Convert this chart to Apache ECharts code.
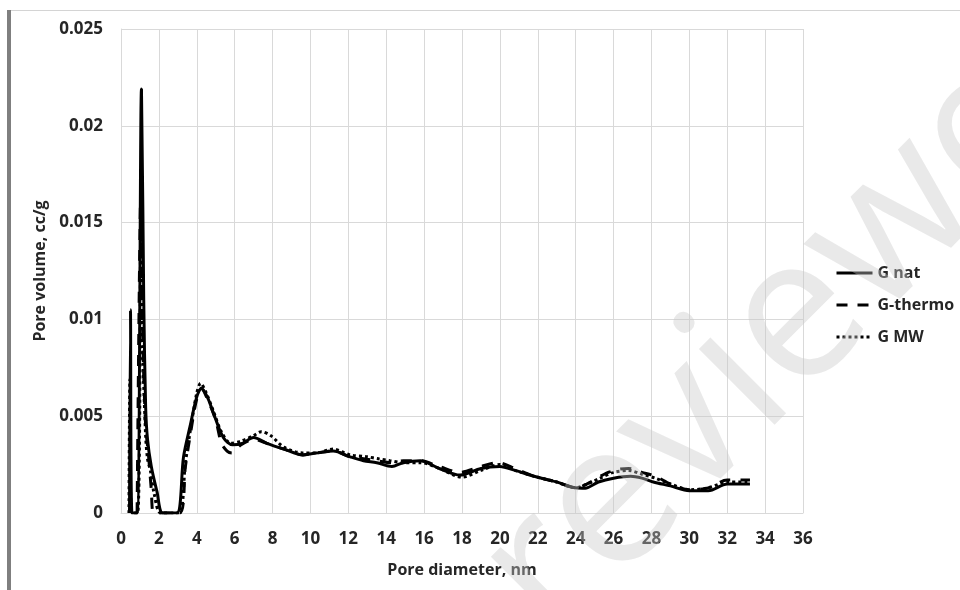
<!DOCTYPE html>
<html>
<head>
<meta charset="utf-8">
<script src="https://cdn.jsdelivr.net/npm/echarts@6/dist/echarts.min.js"></script>
<style>
  html, body { margin: 0; padding: 0; background: #ffffff; }
  #chart { width: 960px; height: 590px; }
</style>
</head>
<body>
<div id="chart"></div>
<script>
// Pore size distributions (pore volume vs. pore diameter) for three samples
var seriesNames = ['G nat', 'G-thermo', 'G MW'];

var natDiameter = [0.45, 0.5, 0.58, 0.85, 1.08, 1.2, 1.3, 1.4, 1.6, 1.9, 2.2, 2.95, 3.3, 3.65, 4.0, 4.25, 4.6, 4.9, 5.4, 5.9, 6.4, 7.0, 7.7, 8.6, 9.6, 10.3, 11.2, 12.1, 12.8, 13.5, 14.3, 14.9, 15.8, 16.8, 17.9, 19.0, 20.0, 20.8, 21.8, 23.0, 24.0, 24.5, 25.2, 26.0, 26.9, 27.5, 28.1, 29.0, 30.0, 31.0, 32.0, 33.2];
var natVolume   = [0, 0.0105, 0, 0, 0.0219, 0.011, 0.0055, 0.0038, 0.0024, 0.0011, 0, 0, 0.0029, 0.0045, 0.006, 0.00645, 0.0059, 0.0051, 0.0039, 0.00352, 0.0036, 0.0039, 0.0036, 0.0033, 0.003, 0.0031, 0.0032, 0.0029, 0.0027, 0.0026, 0.0024, 0.0026, 0.0027, 0.0023, 0.00196, 0.0023, 0.0024, 0.0022, 0.0019, 0.0016, 0.0013, 0.00128, 0.0016, 0.0018, 0.0019, 0.0018, 0.0016, 0.0014, 0.00115, 0.00115, 0.0015, 0.0015];

var thermoDiameter = [0.85, 1.06, 1.15, 1.3, 1.45, 1.6, 1.72, 2.05, 3.1, 3.4, 3.7, 4.0, 4.25, 4.6, 5.0, 5.3, 5.6, 5.85, 6.3, 7.0, 7.7, 8.6, 9.6, 10.3, 11.2, 12.1, 12.8, 13.5, 14.3, 14.9, 15.8, 16.8, 17.9, 19.0, 19.9, 20.8, 21.8, 23.0, 24.0, 24.6, 25.3, 26.0, 26.8, 27.5, 28.2, 29.0, 30.0, 31.0, 32.0, 33.2];
var thermoVolume   = [0, 0.0172, 0.009, 0.0045, 0.003, 0.0012, 0, 0, 0, 0.0024, 0.0043, 0.0059, 0.0064, 0.0058, 0.0048, 0.0036, 0.0032, 0.0031, 0.0035, 0.0038, 0.0036, 0.0033, 0.003, 0.0031, 0.0032, 0.0029, 0.0028, 0.0027, 0.0026, 0.0027, 0.0027, 0.0024, 0.0021, 0.0024, 0.0026, 0.0023, 0.0019, 0.0016, 0.0013, 0.0015, 0.0019, 0.0022, 0.0023, 0.0021, 0.0019, 0.0015, 0.0012, 0.0013, 0.0017, 0.0017];

var mwDiameter = [0.42, 0.47, 0.55, 0.88, 1.06, 1.15, 1.3, 1.4, 1.55, 1.75, 2.1, 3.05, 3.4, 3.7, 4.0, 4.2, 4.5, 4.9, 5.3, 5.8, 6.3, 7.0, 7.4, 7.9, 8.6, 9.6, 10.3, 11.2, 12.1, 13.0, 13.6, 14.2, 14.9, 15.8, 16.8, 18.0, 19.0, 20.0, 20.8, 21.8, 23.0, 24.0, 24.6, 25.3, 26.0, 26.8, 27.5, 28.2, 29.0, 30.0, 31.0, 32.0, 33.2];
var mwVolume   = [0, 0.0069, 0, 0, 0.0168, 0.0085, 0.004, 0.0028, 0.0022, 0.001, 0, 0, 0.0026, 0.0045, 0.0062, 0.0067, 0.0062, 0.0052, 0.0042, 0.0036, 0.0037, 0.004, 0.0042, 0.004, 0.0034, 0.0031, 0.0031, 0.0033, 0.003, 0.0029, 0.0028, 0.0027, 0.0026, 0.0026, 0.0023, 0.00185, 0.0022, 0.0025, 0.0022, 0.0019, 0.0016, 0.0013, 0.0015, 0.0018, 0.0021, 0.0022, 0.002, 0.0018, 0.0015, 0.0012, 0.0013, 0.0016, 0.0016];

var xTickLabels = ['0','2','4','6','8','10','12','14','16','18','20','22','24','26','28','30','32','34','36'];
var yTickLabels = ['0','0.005','0.01','0.015','0.02','0.025'];

function pairs(xs, ys) {
  return xs.map(function (x, i) { return [x, ys[i]]; });
}

var FONT = '"Open Sans", "Noto Sans", sans-serif';
var TEXT = '#262626';
var GRID = '#d9d9d9';

var chart = echarts.init(document.getElementById('chart'), null, { renderer: 'canvas' });

chart.setOption({
  backgroundColor: '#ffffff',
  animation: false,
  grid: { left: 121, right: 157, top: 29, bottom: 77, containLabel: false },
  legend: {
    orient: 'vertical',
    left: 830,
    top: 260,
    itemWidth: 36,
    itemHeight: 14,
    itemGap: 16,
    itemStyle: { color: 'rgba(0,0,0,0)', borderWidth: 0 },
    lineStyle: { width: 3 },
    textStyle: { fontFamily: FONT, fontSize: 16, fontWeight: 'bold', color: TEXT },
    data: seriesNames
  },
  xAxis: {
    type: 'value',
    min: 0, max: 36, interval: 2,
    name: 'Pore diameter, nm',
    nameLocation: 'middle',
    nameGap: 49,
    nameTextStyle: { fontFamily: FONT, fontSize: 16, fontWeight: 'bold', color: TEXT },
    axisLine: { show: true, lineStyle: { color: GRID, width: 1 } },
    axisTick: { show: false },
    axisLabel: {
      fontFamily: FONT, fontSize: 17, fontWeight: 'bold', color: TEXT, margin: 18,
      formatter: function (v) { return xTickLabels[Math.round(v / 2)]; }
    },
    splitLine: { show: true, lineStyle: { color: GRID, width: 1 } }
  },
  yAxis: {
    type: 'value',
    min: 0, max: 0.025, interval: 0.005,
    name: 'Pore volume, cc/g',
    nameLocation: 'middle',
    nameGap: 64,
    nameTextStyle: { fontFamily: FONT, fontSize: 16, fontWeight: 'bold', color: TEXT },
    axisLine: { show: true, lineStyle: { color: GRID, width: 1 } },
    axisTick: { show: false },
    axisLabel: {
      fontFamily: FONT, fontSize: 17, fontWeight: 'bold', color: TEXT, margin: 18,
      formatter: function (v) { return yTickLabels[Math.round(v / 0.005)]; }
    },
    splitLine: { show: true, lineStyle: { color: GRID, width: 1 } }
  },
  series: [
    {
      name: seriesNames[0], type: 'line', z: 4,
      data: pairs(natDiameter, natVolume),
      showSymbol: false, symbol: 'none', smooth: 0.3,
      lineStyle: { color: '#000000', width: 3, type: 'solid' },
      itemStyle: { color: '#000000' }
    },
    {
      name: seriesNames[1], type: 'line', z: 3,
      data: pairs(thermoDiameter, thermoVolume),
      showSymbol: false, symbol: 'none', smooth: 0.3,
      lineStyle: { color: '#000000', width: 3, type: [11, 10] },
      itemStyle: { color: '#000000' }
    },
    {
      name: seriesNames[2], type: 'line', z: 3,
      data: pairs(mwDiameter, mwVolume),
      showSymbol: false, symbol: 'none', smooth: 0.3,
      lineStyle: { color: '#000000', width: 3, type: [3, 3] },
      itemStyle: { color: '#000000' }
    }
  ],
  graphic: [
    // page frame: thick rule on the left, thin rule on top
    { type: 'rect', left: 7, top: 10, shape: { width: 4, height: 580 }, style: { fill: '#7f7f7f' }, z: 100 },
    { type: 'rect', left: 11, top: 10, shape: { width: 949, height: 1 }, style: { fill: '#d4d4d4' }, z: 100 },
    // diagonal watermark
    {
      type: 'text', x: 585, y: 675, rotation: Math.PI / 4, z: 200, silent: true,
      style: {
        text: 'reviewed',
        fontFamily: '"Open Sans", sans-serif', fontSize: 200, fontWeight: 'normal',
        fill: 'rgba(200,200,200,0.4)', textAlign: 'left', textVerticalAlign: 'bottom'
      }
    }
  ]
});
</script>
</body>
</html>
